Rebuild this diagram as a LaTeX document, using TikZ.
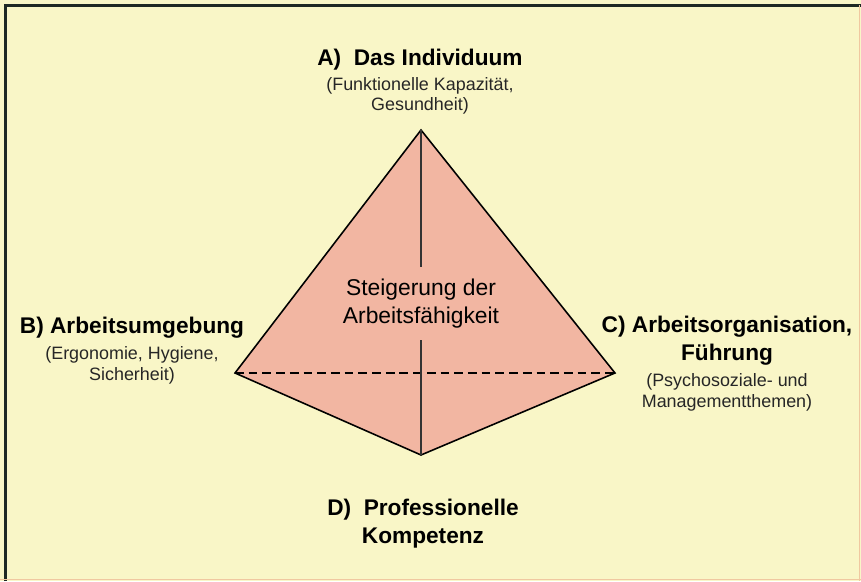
\documentclass[tikz,border=0pt]{standalone}
\usepackage{fontspec}
\setmainfont{Liberation Sans}
\usetikzlibrary{positioning}
\definecolor{bgyellow}{RGB}{249, 246, 199}
\definecolor{pyrfill}{RGB}{242, 182, 162}
\definecolor{frameline}{RGB}{30, 40, 35}
\definecolor{edgeshade}{RGB}{240, 200, 160}
\newcommand\hdfont{\fontsize{12.9}{15.9}\selectfont\bfseries}
\newcommand\sbfont{\fontsize{10.2}{11.8}\selectfont}
\newcommand\ctfont{\fontsize{13}{15.9}\selectfont}
\tikzset{
    head/.style = {font=\hdfont, align=center, inner sep=0pt, anchor=north},
    sub/.style = {font=\sbfont, text=black!85, align=center, inner sep=0pt},
    face/.style = {fill=pyrfill, draw=black, line width=0.9pt},
    hidden/.style = {draw=black, line width=0.8pt, dash pattern=on 5pt off 2.8pt},
    axisline/.style = {draw=black!80, line width=0.6pt}
}

\begin{document}
\begin{tikzpicture}[x=0.02cm, y=-0.02cm, node distance=0.15cm]
  \useasboundingbox (0,0) rectangle (861,581);
  \fill[bgyellow] (0,0) rectangle (861,581);
  \draw[frameline, line width=1.7pt] (5.5,581) -- (5.5,5.5) -- (861,5.5);
  \draw[edgeshade, line width=1pt] (0,579.5) -- (861,579.5);
  \draw[edgeshade, line width=1pt] (859.5,5.5) -- (859.5,581);

  % corners of the pyramid
  \coordinate (top) at (421,130);
  \coordinate (left) at (235,373);
  \coordinate (right) at (615,373);
  \coordinate (bottom) at (421,455);

  \path[face] (top) -- (left) -- (bottom) -- (right) -- cycle;
  \draw[hidden] (left) -- (right);

  \node[font=\ctfont, align=center, inner xsep=0pt, inner ysep=0.24cm] (goal) at (421,303.5) {Steigerung der\\Arbeitsfähigkeit};
  \draw[axisline] (top) -- (goal);
  \draw[axisline] (goal) -- (bottom);

  % labels
  \node[head] (indiv) at (420,49) {A)\ \ Das Individuum};
  \node[sub, below=0.12cm of indiv] (indivsub) {(Funktionelle Kapazität,\\Gesundheit)};

  \node[head] (env) at (132,317) {B) Arbeitsumgebung};
  \node[sub, below=of env] (envsub) {(Ergonomie, Hygiene,\\Sicherheit)};

  \node[head] (org) at (727,316) {C) Arbeitsorganisation,\\Führung};
  \node[sub, below=of org] (orgsub) {(Psychosoziale- und\\Managementthemen)};

  \node[head] (comp) at (423,499) {D)\ \ Professionelle\\Kompetenz};
\end{tikzpicture}
\end{document}
